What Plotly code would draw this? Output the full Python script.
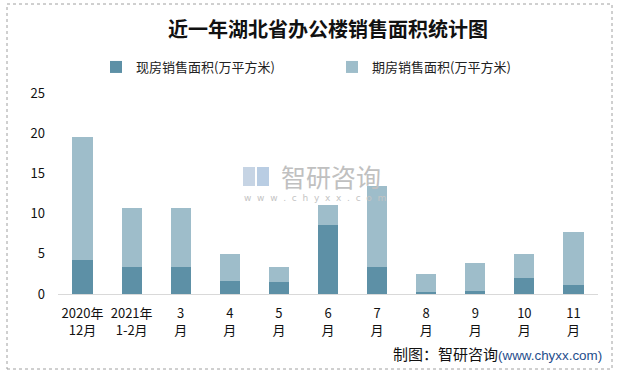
import plotly.graph_objects as go

categories = ["2020年<br>12月", "2021年<br>1-2月", "3<br>月", "4<br>月", "5<br>月", "6<br>月",
              "7<br>月", "8<br>月", "9<br>月", "10<br>月", "11<br>月"]
current_sales = [4.2, 3.4, 3.3, 1.6, 1.5, 8.6, 3.4, 0.25, 0.4, 2.0, 1.1]
future_sales = [15.3, 7.3, 7.4, 3.4, 1.9, 2.5, 10.0, 2.25, 3.5, 3.0, 6.6]
series_names = ["现房销售面积(万平方米)", "期房销售面积(万平方米)"]
y_ticks = [0, 5, 10, 15, 20, 25]

FONT = "Noto Sans CJK SC"
fig = go.Figure()
fig.add_trace(go.Bar(x=categories, y=current_sales, name=series_names[0],
                     marker=dict(color="#5d90a6", line=dict(width=0)), legend="legend"))
fig.add_trace(go.Bar(x=categories, y=future_sales, name=series_names[1],
                     marker=dict(color="#9ebdca", line=dict(width=0)), legend="legend2"))

W, H = 626, 372
L, R, T, B = 58, 28, 93, 78
pw, ph = W - L - R, H - T - B

def px(x):
    return (x - L) / pw

def py(y):
    return (H - B - y) / ph

fig.update_layout(
    width=W, height=H, barmode="stack", bargap=0.59,
    margin=dict(l=L, r=R, t=T, b=B, autoexpand=False),
    paper_bgcolor="white", plot_bgcolor="white",
    font=dict(family=FONT, size=13, color="#222"),
    title=dict(text="<b>近一年湖北省办公楼销售面积统计图</b>", x=0.5, xref="paper",
               xanchor="center", yref="container", y=1 - 30 / H, yanchor="middle",
               font=dict(family=FONT, size=20, color="#111")),
    showlegend=True,
    legend=dict(orientation="h", xref="container", yref="container",
                x=96 / W, y=1 - 67 / H, xanchor="left", yanchor="middle",
                font=dict(size=13, family=FONT), bgcolor="rgba(0,0,0,0)"),
    legend2=dict(orientation="h", xref="container", yref="container",
                 x=332 / W, y=1 - 67 / H, xanchor="left", yanchor="middle",
                 font=dict(size=13, family=FONT), bgcolor="rgba(0,0,0,0)"),
    xaxis=dict(showgrid=False, showline=True, linecolor="#d9d9d9", linewidth=1,
               ticks="", tickfont=dict(size=13, color="#111"), automargin=False,
               ticklabelstandoff=7),
    yaxis=dict(range=[0, 25], tickvals=y_ticks, showgrid=False, zeroline=False,
               showline=False, ticks="", tickfont=dict(size=13, color="#111"),
               ticklabelstandoff=12, automargin=False),
)

# watermark
fig.add_annotation(text="智研咨询", x=px(331), y=py(176), xref="paper", yref="paper",
                   yanchor="middle", showarrow=False,
                   font=dict(size=25, color="#c0c0c0", family=FONT))
fig.add_annotation(text="w  w  w  .  c  h  y  x  x  .  c  o  m", x=px(315), y=py(198),
                   xref="paper", yref="paper", yanchor="middle", showarrow=False,
                   font=dict(size=9, color="#c4c4c4", family="DejaVu Sans"))
fig.add_shape(type="rect", xref="paper", yref="paper", x0=px(243), x1=px(255),
              y0=py(186), y1=py(167), line=dict(width=0), fillcolor="#c6d4e4")
fig.add_shape(type="rect", xref="paper", yref="paper", x0=px(257), x1=px(269),
              y0=py(186), y1=py(167), line=dict(width=0), fillcolor="#b9cde3")
# source
fig.add_annotation(
    text="制图：智研咨询<span style='color:#1f4e8c;font-family:Liberation Sans;font-size:13.4px'>(www.chyxx.com)</span>",
    x=px(604), y=py(353), xref="paper", yref="paper", xanchor="right", yanchor="middle",
    showarrow=False, font=dict(size=15, color="#111", family=FONT))
# frame
fig.add_shape(type="rect", xref="paper", yref="paper", x0=px(7), x1=px(612),
              y0=py(369), y1=py(4), line=dict(color="#a0a0a0", width=1, dash="dot"),
              fillcolor="rgba(0,0,0,0)")

fig.write_html("out.html", config={"displayModeBar": False},
               post_script="document.body.style.margin='0';")
